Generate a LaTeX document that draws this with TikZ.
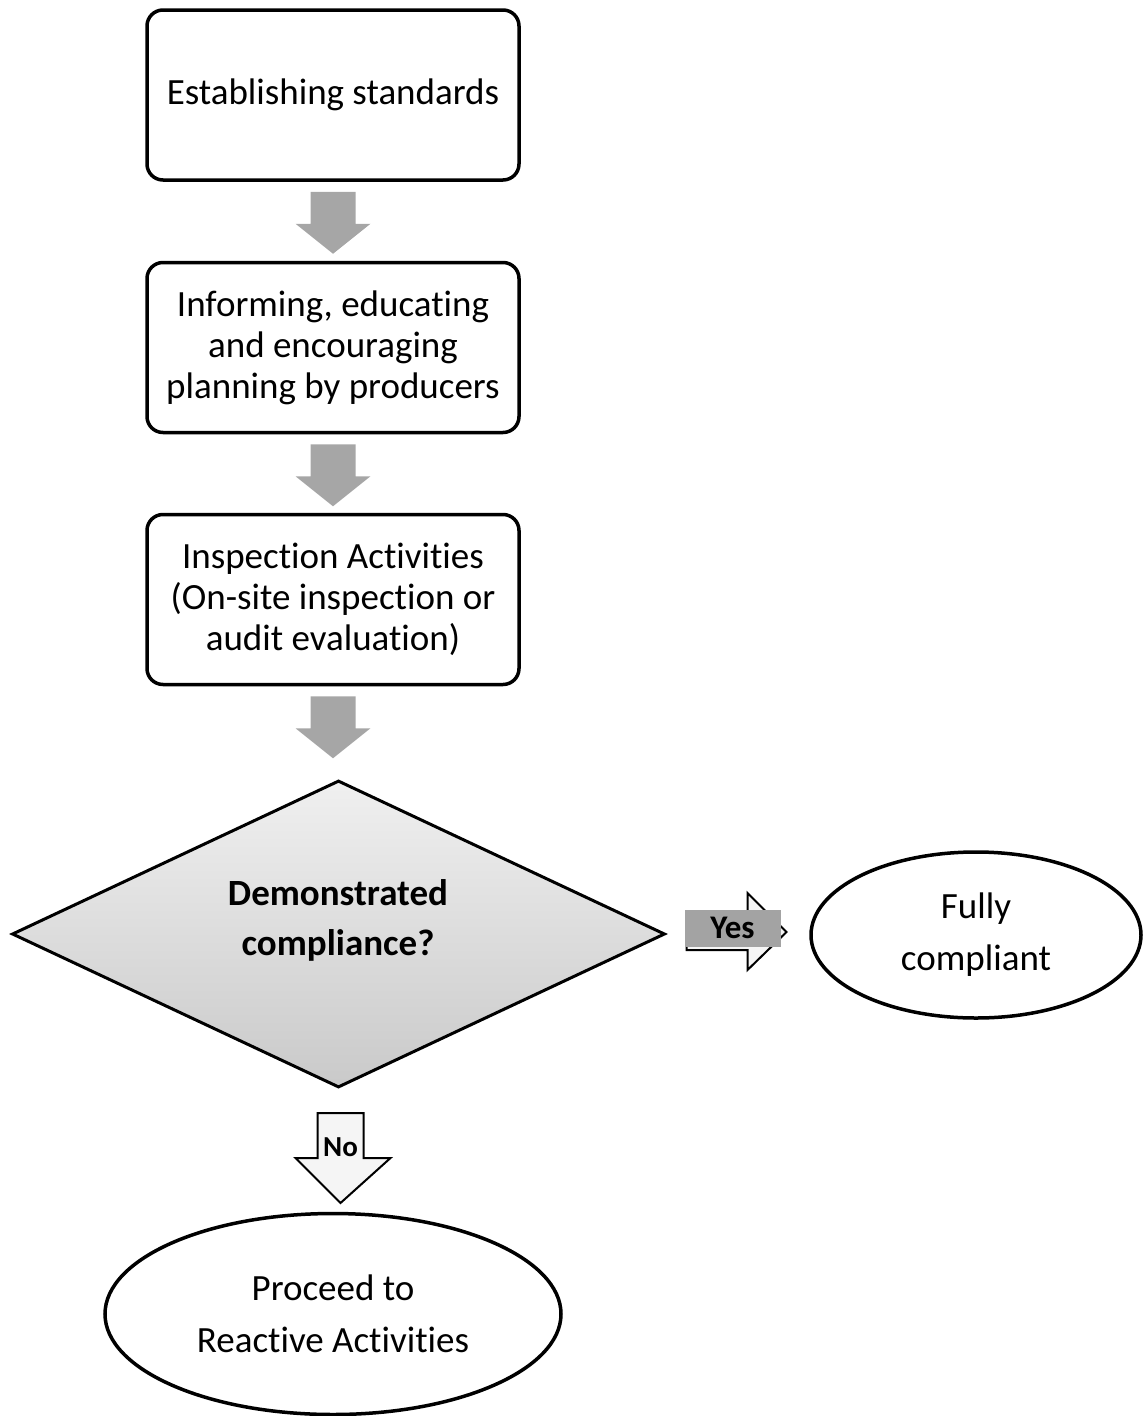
\documentclass[tikz,border=0pt]{standalone}
\usepackage{fontspec}
\setmainfont{Carlito}[Ligatures={NoCommon}]
\usetikzlibrary{shapes.geometric,calc}
\definecolor{arrowgray}{HTML}{A6A6A6}
\definecolor{labelgray}{HTML}{A3A3A3}
\tikzset{
  stepbox/.style={draw=black, line width=3.5pt, rounded corners=16pt, fill=white,
    minimum width=372pt, minimum height=170pt, align=center, inner sep=4pt,
    font=\fontsize{37}{41}\selectfont},
  endoval/.style={draw=black, line width=3.5pt, ellipse, fill=white, align=center,
    inner sep=0pt, font=\fontsize{37}{52}\selectfont},
  decision/.style={diamond, draw=black, line width=3pt, top color=gray!12, bottom color=gray!42,
    minimum width=653pt, minimum height=307pt, inner sep=0pt},
  dlabel/.style={align=center, font=\bfseries\fontsize{37}{50}\selectfont, inner sep=0pt},
  flowarrow/.style={fill=arrowgray},
  branch/.style={draw=black, line width=2pt, fill=gray!8, line join=miter},
  tag/.style={font=\bfseries\fontsize{29}{30}\selectfont}
}
\begin{document}
\begin{tikzpicture}[x=1pt,y=-1pt]
\useasboundingbox (0,0) rectangle (1148,1416);
\node[stepbox] (b1) at (333,95) {Establishing standards};
\node[stepbox] (b2) at (333,347.5) {Informing, educating\\and encouraging\\planning by producers};
\node[stepbox] (b3) at (333,599.5) {Inspection Activities\\(On-site inspection or\\audit evaluation)};
\node[decision] (d) at (338.5,934) {};
\node[dlabel] (dt) at (338,920) {Demonstrated\\compliance?};
\node[endoval, minimum width=330pt, minimum height=166pt] (fc) at (976,935) {Fully\\compliant};
\node[endoval, minimum width=456pt, minimum height=201pt] (pr) at (333,1314) {Proceed to\\Reactive Activities};

\foreach \n in {b1,b2,b3}{
  \fill[flowarrow, shift={(\n.south)}] (-22.5,10) -- (22.5,10) -- (22.5,42) -- (37.5,42) -- (0,72) -- (-37.5,42) -- (-22.5,42) -- cycle;
}

% Yes branch
\draw[branch, shift={(d.east)}] (20,-22) -- (81,-22) -- (81,-41) -- (120,-2) -- (81,36) -- (81,16) -- (20,16) -- cycle;
\node[tag, fill=labelgray, minimum width=96pt, minimum height=37pt, inner sep=0pt, font=\bfseries\fontsize{33}{34}\selectfont] (yes) at ($(d.east)+(66,-6)$) {Yes\hspace{16pt}};

% No branch
\draw[branch, shift={(d.south)}] (-21,24) -- (25,24) -- (25,69) -- (52,69) -- (2,114) -- (-43,69) -- (-21,69) -- cycle;
\node[tag, inner sep=0pt] (no) at ($(d.south)+(2,58)$) {No};
\end{tikzpicture}
\end{document}
